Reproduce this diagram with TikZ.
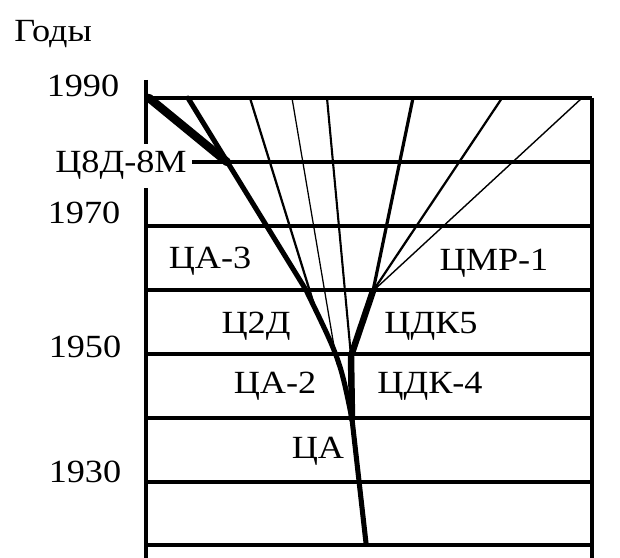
\documentclass[tikz,border=0pt]{standalone}
\usepackage{fontspec}
\setmainfont[FakeStretch=1.12]{Liberation Serif}
\begin{document}
\begin{tikzpicture}[x=0.025cm,y=-0.025cm,
    setka/.style={line width=2.2pt},
    vetv/.style={line width=#1,line cap=round,line join=round},
    metka/.style={anchor=base,inner sep=0pt,font=\fontsize{23}{26}\selectfont}]
    \useasboundingbox (0,0) rectangle (620,558);
    % Setka
    \foreach \y in {98,162,226,290,354,418,482,545}
        \draw[setka] (146,\y) -- (592,\y);
    \draw[setka] (146,80) -- (146,558);
    \draw[setka] (592,98) -- (592,558);
    % Tochki vetvleniya
    \coordinate (kor) at (366,543);
    \coordinate (ca) at (352,419);
    \coordinate (cdk4) at (351,356);
    \coordinate (cdk5) at (373,291);
    \coordinate (c2d) at (306,290);
    \coordinate (c8d) at (227,162);
    \coordinate (m1) at (316,311);
    \coordinate (m2) at (337,364);
    % Vetv CA
    \draw[vetv=3.6pt] (kor) -- (ca);
    \draw[vetv=3.6pt] (ca) .. controls (340,360) .. (c2d) -- (188,98);
    \draw[vetv=6pt] (c8d) -- (149,98);
    \draw[vetv=1.6pt] (m1) -- (250,98);
    \draw[vetv=0.9pt] (m2) -- (292,98);
    \draw[vetv=1.5pt] (cdk4) -- (327,98);
    % Vetv CDK
    \draw[vetv=4.6pt] (ca) -- (cdk4) -- (cdk5);
    \draw[vetv=2.3pt] (cdk5) -- (413,98);
    \draw[vetv=1.6pt] (cdk5) -- (502,98);
    \draw[vetv=1pt] (cdk5) -- (582,98);
    % Podpisi
    \node[metka,anchor=base west] (gody) at (14,42) {Годы};
    \node[metka] (g1990) at (83,97) {1990};
    \node[metka] (g1970) at (84,224) {1970};
    \node[metka] (g1950) at (85,357) {1950};
    \node[metka] (g1930) at (85,482) {1930};
    \node[metka,fill=white,inner xsep=3.5pt,inner ysep=5.5pt] (l8d) at (121,173) {Ц8Д-8М};
    \node[metka] (lca3) at (210,268) {ЦА-3};
    \node[metka] (lcmr) at (494,270) {ЦМР-1};
    \node[metka] (lc2d) at (256,333) {Ц2Д};
    \node[metka] (lcdk5) at (431,333) {ЦДК5};
    \node[metka] (lca2) at (275,393) {ЦА-2};
    \node[metka] (lcdk4) at (430,393) {ЦДК-4};
    \node[metka] (lca) at (318,458) {ЦА};
\end{tikzpicture}
\end{document}
